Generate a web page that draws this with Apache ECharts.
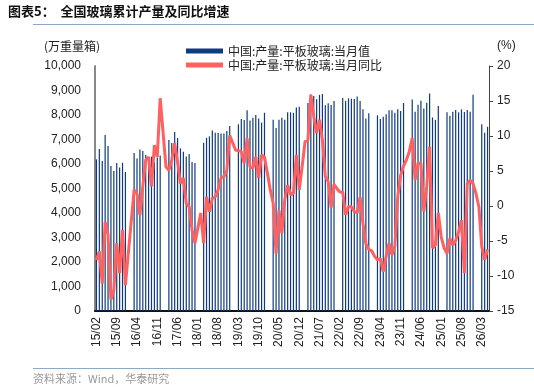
<!DOCTYPE html>
<html>
<head>
<meta charset="utf-8">
<script src="https://cdn.jsdelivr.net/npm/echarts@6/dist/echarts.min.js"></script>
<style>
html,body{margin:0;padding:0;background:#fff}
#chart{width:534px;height:392px}
</style>
</head>
<body>
<div id="chart"></div>
<script>
//月份 15/02 - 26/05
var months = []
for (var y = 2015; y <= 2026; y++) {
	for (var m = 1; m <= 12; m++) {
		if (y == 2015 && m < 2) continue
		if (y == 2026 && m > 5) break
		months.push(String(y).slice(2) + '/' + (m < 10 ? '0' + m : m))
	}
}

//当月值 (万重量箱), 每年1-2月无数据
var output = [
	6190, 6610, 6120, 7180, 6730, 5920, 5710, 6040, 5860, 6050, 5670,
	null, null, 6450, 6220, 6590, 6530, 6370, 6140, 6300, 6070, 6270, 6350,
	null, null, 6980, 6860, 7310, 7060, 6640, 6500, 6310, 6410, 6080, 6040,
	null, null, 6870, 7070, 7130, 7370, 7280, 7270, 7250, 7250, 7350, 7550,
	null, null, 7620, 7840, 7800, 8190, 7780, 7890, 8000, 7860, 7690, 8090,
	null, null, 7810, 7470, 7810, 7890, 7810, 8110, 8110, 8090, 8310, 8340,
	null, null, 8490, 8840, 8780, 8640, 8820, 8860, 8400, 8480, 8410, 8570,
	null, null, 8690, 8580, 8680, 8660, 8650, 8760, 8570, 8230, 7860, 8070,
	null, null, 7990, 7840, 7930, 8030, 8190, 8190, 8090, 8230, 8160, 8490,
	null, null, 8630, 8130, 8420, 8580, 8270, 8500, 8880, 7900, 7800, 8370,
	null, null, 8110, 7970, 8130, 8200, 8110, 8230, 8120, 8200, 8130, 8830,
	null, null, 7620, 7280, 7520
]

//当月同比 (%)
var yoy = [
	-7.7, -6.5, -11.1, -2.3, -4.1, -13.4, -12, -5.3, -9.6, -3.4, -11.3,
	null, null, 2.3, 1.8, -1.3, 2.8, 6.6, 7.0, 2.8, 8.7, 7.0, 15.4,
	null, 5.6, 5.1, 6.6, 9.0, 6.3, 3.2, 4.0, 0.4, -0.1, -3.4, -5.3,
	null, -1.0, -5.3, 1.3, -0.8, 1.1, 1.3, 2.3, 4.0, 4.2, 5.1, 10.1,
	null, 8.0, 7.9, 7.8, 6.1, 9.7, 5.6, 5.4, 7.0, 4.0, 7.3, 7.0,
	4.7, 2.3, 0.4, -6.8, -0.6, -3.9, 0.9, 3.0, 1.6, 1.8, 7.3, 2.3,
	5.6, 9.2, 9.4, 15.9, 12.8, 10.4, 12.3, 9.4, 4.2, 3.5, -0.3, 3.1,
	2.5, 2.0, 2.0, -1.3, -0.1, -0.1, -0.8, -1.0, 1.3, -2.5, -5.4, -6.2,
	-6.4, -7.2, -7.7, -7.5, -9.4, -7.2, -5.3, -7.0, -5.8, 1.3, 4.4, 5.7,
	6.6, 7.8, 9.7, 3.7, 6.1, 6.1, -0.8, 2.8, 8.5, -6.0, -5.6, -1.0,
	-4.4, -6.0, -6.8, -4.6, -5.6, -4.9, -3.7, -2.0, -9.6, 3.2, 3.7, 3.2,
	1.8, -0.1, -5.8, -7.7, -6.2
]

var seriesNames = ['中国:产量:平板玻璃:当月值', '中国:产量:平板玻璃:当月同比']

var chart = echarts.init(document.getElementById('chart'))
var option = {
	animation: false,
	textStyle: {
		fontFamily: 'Liberation Sans, Arial, sans-serif'
	},
	grid: {
		left: 95,
		right: 45,
		top: 66,
		bottom: 81
	},
	graphic: [
		{
			type: 'text', left: 8, top: 5,
			style: { text: '图表5：  全国玻璃累计产量及同比增速', fontSize: 13, fontWeight: 'bold', fill: '#111', fontFamily: 'Noto Sans CJK SC' }
		},
		{
			type: 'line', shape: { x1: 33, y1: 24.5, x2: 534, y2: 24.5 },
			style: { stroke: '#8fa8c6', lineWidth: 1 }
		},
		{
			type: 'text', left: 44, top: 40,
			style: { text: '(万重量箱)', fontSize: 12, fill: '#222', fontFamily: 'Noto Sans CJK SC' }
		},
		{
			type: 'text', left: 497, top: 40,
			style: { text: '(%)', fontSize: 12, fill: '#222', fontFamily: 'Liberation Sans' }
		},
		{
			type: 'line', shape: { x1: 33, y1: 368.5, x2: 534, y2: 368.5 },
			style: { stroke: '#8fa8c6', lineWidth: 1 }
		},
		{
			type: 'text', left: 33, top: 373,
			style: { text: '资料来源：Wind，华泰研究', fontSize: 11, fill: '#999', fontFamily: 'Noto Sans CJK SC' }
		}
	],
	legend: {
		orient: 'vertical',
		left: 181,
		top: 40,
		itemGap: 2,
		itemWidth: 37,
		itemHeight: 5,
		data: [
			{ name: seriesNames[0], icon: 'rect' },
			{ name: seriesNames[1], icon: 'rect' }
		],
		textStyle: {
			fontSize: 12,
			color: '#222',
			fontFamily: 'Noto Sans CJK SC'
		}
	},
	xAxis: {
		type: 'category',
		data: months,
		axisLine: {
			lineStyle: { color: '#111', width: 2 }
		},
		axisTick: { show: false },
		axisLabel: {
			interval: 6,
			rotate: 90,
			fontSize: 12,
			color: '#222',
			margin: 6
		}
	},
	yAxis: [
		{
			type: 'value',
			min: 0,
			max: 10000,
			interval: 1000,
			splitLine: { show: false },
			axisLine: {
				show: true,
				lineStyle: { color: '#888', width: 2 }
			},
			axisTick: { show: false },
			axisLabel: {
				fontSize: 12,
				color: '#222',
				margin: 14,
				formatter: function (v) {
					return v.toLocaleString('en-US')
				}
			}
		},
		{
			type: 'value',
			min: -15,
			max: 20,
			interval: 5,
			splitLine: { show: false },
			axisLine: {
				show: true,
				lineStyle: { color: '#444', width: 1 }
			},
			axisTick: {
				show: true,
				length: 4,
				lineStyle: { color: '#444' }
			},
			axisLabel: {
				fontSize: 12,
				color: '#222',
				margin: 8
			}
		}
	],
	series: [
		{
			name: seriesNames[0],
			type: 'bar',
			data: output,
			barWidth: 1.2,
			itemStyle: { color: '#0e3a80' }
		},
		{
			name: seriesNames[1],
			type: 'line',
			yAxisIndex: 1,
			data: yoy,
			connectNulls: true,
			symbol: 'none',
			lineStyle: { color: '#ff6161', width: 3 },
			itemStyle: { color: '#ff6161' }
		}
	]
}
chart.setOption(option)

window.onresize = function () {
	chart.resize()
}
</script>
</body>
</html>
